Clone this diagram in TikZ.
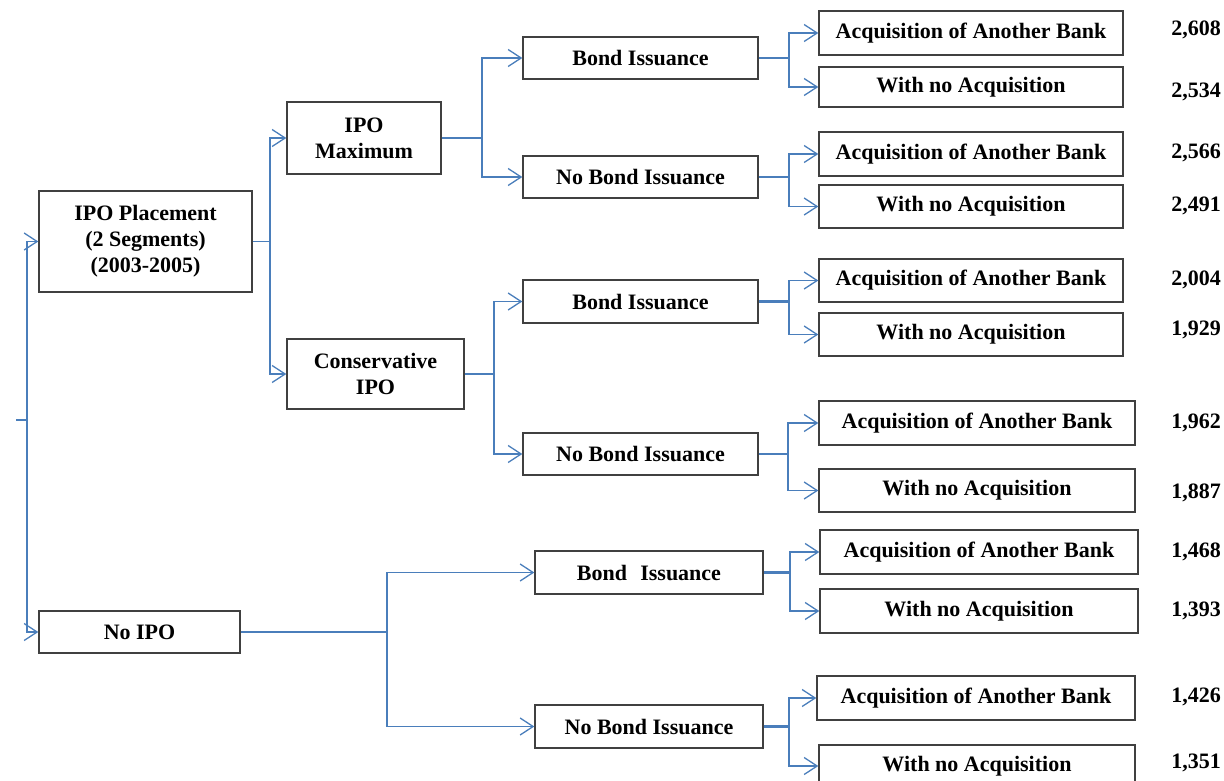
\documentclass[tikz,border=0pt]{standalone}
\usepackage{fontspec}
\setmainfont{Liberation Serif}
\usetikzlibrary{arrows.meta}
\definecolor{lnk}{RGB}{74,126,187}
\begin{document}
\begin{tikzpicture}[x=1pt,y=-1pt,
  box/.style={draw=black!75, line width=1.4pt, fill=white, inner sep=0pt, align=center,
    font=\fontsize{22}{26}\selectfont\bfseries},
  val/.style={anchor=east, inner sep=0pt, font=\fontsize{22}{26}\selectfont\bfseries},
  stem/.style={draw=lnk, line width=2.2pt},
  thinstem/.style={draw=lnk, line width=1.4pt},
  branch/.style={draw=lnk, line width=1.3pt, -{Straight Barb[length=13pt,width=17pt,line width=1.3pt]}}
]
\useasboundingbox (0,0) rectangle (1224,780);

% level 1
\node[box, minimum width=213, minimum height=101] (place) at (145.5,241.5) {IPO Placement\\(2 Segments)\\(2003-2005)};
\node[box, minimum width=201, minimum height=42] (noipo) at (139.5,632) {No IPO};
% level 2
\node[box, minimum width=154, minimum height=72] (max) at (364,138) {IPO\\Maximum};
\node[box, minimum width=177, minimum height=70] (cons) at (375.5,374) {Conservative\\IPO};
% level 3
\node[box, minimum width=235, minimum height=42] (b1) at (640.5,58) {Bond Issuance};
\node[box, minimum width=235, minimum height=42] (nb1) at (640.5,177) {No Bond Issuance};
\node[box, minimum width=235, minimum height=43] (b2) at (640.5,301.5) {Bond Issuance};
\node[box, minimum width=235, minimum height=42] (nb2) at (640.5,454) {No Bond Issuance};
\node[box, minimum width=228, minimum height=43] (b3) at (649,572.5) {Bond\hspace{0.6em}Issuance};
\node[box, minimum width=228, minimum height=43] (nb3) at (649,726.5) {No Bond Issuance};
% leaves
\node[box, minimum width=304, minimum height=44] (l1a) at (971,33) {Acquisition of Another Bank};
\node[box, minimum width=304, minimum height=40] (l1b) at (971,87) {With no Acquisition};
\node[box, minimum width=304, minimum height=44] (l2a) at (971,154) {Acquisition of Another Bank};
\node[box, minimum width=304, minimum height=43] (l2b) at (971,206.5) {With no Acquisition};
\node[box, minimum width=304, minimum height=43] (l3a) at (971,280.5) {Acquisition of Another Bank};
\node[box, minimum width=304, minimum height=43] (l3b) at (971,334.5) {With no Acquisition};
\node[box, minimum width=316, minimum height=44] (l4a) at (977,423) {Acquisition of Another Bank};
\node[box, minimum width=316, minimum height=43] (l4b) at (977,490.5) {With no Acquisition};
\node[box, minimum width=318, minimum height=44] (l5a) at (979,552) {Acquisition of Another Bank};
\node[box, minimum width=318, minimum height=44] (l5b) at (979,611) {With no Acquisition};
\node[box, minimum width=318, minimum height=44] (l6a) at (976,698) {Acquisition of Another Bank};
\node[box, minimum width=316, minimum height=42] (l6b) at (977,766) {With no Acquisition};

% values
\node[val] (v1) at (1221,30) {2,608};
\node[val] (v2) at (1221,92) {2,534};
\node[val] (v3) at (1221,153) {2,566};
\node[val] (v4) at (1221,206) {2,491};
\node[val] (v5) at (1221,280) {2,004};
\node[val] (v6) at (1221,330) {1,929};
\node[val] (v7) at (1221,423) {1,962};
\node[val] (v8) at (1221,493) {1,887};
\node[val] (v9) at (1221,552) {1,468};
\node[val] (v10) at (1221,611) {1,393};
\node[val] (v11) at (1221,697) {1,426};
\node[val] (v12) at (1221,763) {1,351};

% root connectors
\coordinate (r0) at (16,420);
\coordinate (r1) at (27,420);
\draw[thinstem] (r0) -- (r1);
\draw[branch] (r1) |- (place.west);
\draw[branch] (r1) |- (noipo.west);

% place -> max / cons
\coordinate (p1) at (270,241.5);
\draw[thinstem] (place.east) -- (p1);
\draw[branch] (p1) |- (max.west);
\draw[branch] (p1) |- (cons.west);

% max -> b1 / nb1
\coordinate (m1) at (482,138);
\draw[stem] (max.east) -- (m1);
\draw[branch] (m1) |- (b1.west);
\draw[branch] (m1) |- (nb1.west);

% cons -> b2 / nb2
\coordinate (c1) at (494,374);
\draw[stem] (cons.east) -- (c1);
\draw[branch] (c1) |- (b2.west);
\draw[branch] (c1) |- (nb2.west);

% noipo -> b3 / nb3
\coordinate (n1) at (387,632);
\draw[stem] (noipo.east) -- (n1);
\draw[branch] (n1) |- (b3.west);
\draw[branch] (n1) |- (nb3.west);

% leaves
\coordinate (k1) at (789,58);
\draw[stem] (b1.east) -- (k1);
\draw[branch] (k1) |- (l1a.west);
\draw[branch] (k1) |- (l1b.west);

\coordinate (k2) at (789,177);
\draw[stem] (nb1.east) -- (k2);
\draw[branch] (k2) |- (l2a.west);
\draw[branch] (k2) |- (l2b.west);

\coordinate (k3) at (789,301.5);
\draw[stem] (b2.east) -- (k3);
\draw[branch] (k3) |- (l3a.west);
\draw[branch] (k3) |- (l3b.west);

\coordinate (k4) at (788,454);
\draw[stem] (nb2.east) -- (k4);
\draw[branch] (k4) |- (l4a.west);
\draw[branch] (k4) |- (l4b.west);

\coordinate (k5) at (790,572.5);
\draw[stem] (b3.east) -- (k5);
\draw[branch] (k5) |- (l5a.west);
\draw[branch] (k5) |- (l5b.west);

\coordinate (k6) at (789,726.5);
\draw[stem] (nb3.east) -- (k6);
\draw[branch] (k6) |- (l6a.west);
\draw[branch] (k6) |- (l6b.west);
\end{tikzpicture}
\end{document}
